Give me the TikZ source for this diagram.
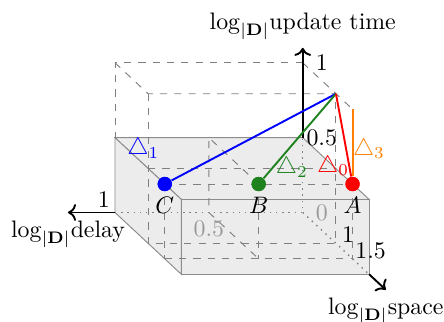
\documentclass[tikz,border=0pt]{standalone}
\usepackage{amsmath,amssymb,amsfonts}
\usepackage{xcolor}
\usepackage{tikz}
\usetikzlibrary{arrows.meta,positioning,calc}

\definecolor{darkgreen}{RGB}{30,130,30}

\begin{document}
\begin{tikzpicture}[x={(-78.83pt,0pt)}, y={(0pt,62.83pt)}, z={(13.94pt,-12.98pt)},
		grid/.style={gray, dashed},
		edge/.style={gray!90},
		axis/.style={thick, ->},
		dot/.style={circle, fill=#1, inner sep=0pt, minimum size=6pt},
		tick/.style={inner sep=2pt}]
		\useasboundingbox (-127.1pt,-45.7pt) rectangle (59.3pt,89.2pt);

		\coordinate (O) at (0,0,0);
		\coordinate (X1) at (1,0,0);
		\coordinate (Xe) at (1.25,0,0);
		\coordinate (Y05) at (0,0.5,0);
		\coordinate (Y1) at (0,1,0);
		\coordinate (Ye) at (0,1.1,0);
		\coordinate (Z1) at (0,0,1);
		\coordinate (Z15) at (0,0,1.5);
		\coordinate (Z2) at (0,0,2);
		\coordinate (Ze) at (0,0,2.5);
		\coordinate (P) at (0,1,1);
		\coordinate (Q) at (0,1,1.5);

		% box
		\filldraw[edge, fill=gray!15] (0,0.5,0) -- (1,0.5,0) -- (1,0.5,2) -- (0,0.5,2) -- cycle;
		\filldraw[edge, fill=gray!15] (1,0,0) -- (1,0.5,0) -- (1,0.5,2) -- (1,0,2) -- cycle;
		\filldraw[edge, fill=gray!15] (0,0,2) -- (1,0,2) -- (1,0.5,2) -- (0,0.5,2) -- cycle;

		\node[text=black!40] (d05) at (0.5,0,0) [below] {0.5};
		\node[text=black!40, xshift=8pt] (o) at (O) {0};

		% grid
		\draw[grid] (0,1,0) -- (1,1,0) -- (1,0.5,0);
		\draw[grid] (1,1,0) -- (1,1,1) -- (0,1,1);
		\draw[grid] (1,1,1) -- (1,0,1) -- (0,0,1) -- (0,1,1);
		\draw[grid] (0,1,0) -- (0,1,1.5);
		\draw[grid] (1,0.5,1) -- (0,0.5,1);
		\draw[grid] (1,0.5,1.5) -- (0,0.5,1.5);
		\draw[grid] (1,0,1.5) -- (0,0,1.5);
		\draw[grid] (1,0.5,1.5) -- (1,0,1.5);
		\draw[grid] (0.5,0.5,1.5) -- (0.5,0,1.5);
		\draw[grid] (0,0.5,1.5) -- (0,0,1.5);
		\draw[grid] (0.5,0.5,1.5) -- (0.5,0.5,0) -- (0.5,0,0) -- (0.5,0,1.5);

		% axes
		\draw[gray, dotted, semithick] (X1) -- (O) -- (Y05);
		\draw[gray, dotted, semithick] (O) -- (Z2);
		\draw[axis] (X1) -- (Xe);
		\draw[axis] (Y05) -- (Ye);
		\draw[axis] (Z2) -- (Ze);
		\node[below] (xlab) at (Xe) {$\log_{|\mathbf{D}|}$delay};
		\node[above] (ylab) at (Ye) {$\log_{|\mathbf{D}|}$update time};
		\node[below] (zlab) at (Ze) {$\log_{|\mathbf{D}|}$space};

		\node[tick, above left] (d1) at (X1) {1};
		\node[xshift=8pt] (u1) at (Y1) {1};
		\node[xshift=8pt] (u05) at (Y05) {0.5};
		\node[inner sep=0pt, anchor=base west] (s1) at ($(Z1)+(2.4pt,0.5pt)$) {1};
		\node[inner sep=0pt, anchor=base west] (s15) at ($(Z15)+(1pt,0.3pt)$) {1.5};

		% trade-offs
		\node[dot=red] (A) at (0,0.5,1.5) {};
		\node[dot=darkgreen] (B) at (0.5,0.5,1.5) {};
		\node[dot=blue] (C) at (1,0.5,1.5) {};

		\draw[thick, blue] (P) -- (C);
		\draw[thick, darkgreen] (P) -- (B);
		\draw[thick, red] (P) -- (A);
		\draw[thick, orange] (Q) -- (A);
		\node[blue] (t1) at ($(C)+(-9pt,14.7pt)$) {$\triangle_1$};
		\node[darkgreen] (t2) at ($(B)+(13.9pt,6.8pt)$) {$\triangle_2$};
		\node[red] (t0) at ($(A)+(-8.2pt,7.4pt)$) {$\triangle_0$};
		\node[orange] (t3) at ($(A)+(6.9pt,14.6pt)$) {$\triangle_3$};

		\node[dot=red] at (A) {};
		\node[dot=darkgreen] at (B) {};
		\node[dot=blue] at (C) {};

		\node[tick, below=0pt of A] (Alab) {$A$};
		\node[tick, below=0pt of B] (Blab) {$B$};
		\node[tick, below=0pt of C] (Clab) {$C$};
	\end{tikzpicture}
\end{document}
